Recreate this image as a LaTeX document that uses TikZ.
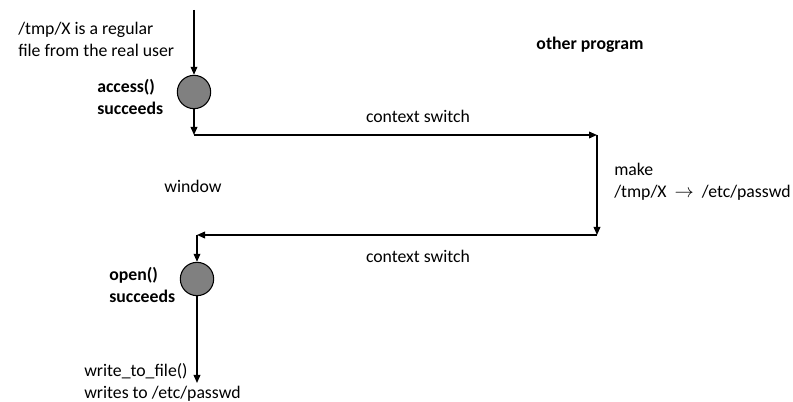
\documentclass[tikz,border=0pt]{standalone}
\usepackage{fontspec}
\setmainfont{Carlito}
\usetikzlibrary{arrows.meta}
\tikzset{
    state/.style={circle,draw,fill=black!50,minimum size=25,inner sep=0pt,line width=0.8pt},
    txt/.style={draw=none,inner sep=0pt,align=left,anchor=west,font=\fontsize{13.3}{16.5}\selectfont},
    btxt/.style={txt,font=\fontsize{13.3}{16.5}\selectfont\bfseries},
    ctxt/.style={txt,anchor=center,align=center},
    flow/.style={arrows={-Triangle[length=6pt,width=5pt]},line width=1.1pt},
    }
\begin{document}
\begin{tikzpicture}[x=0.75pt,y=-0.75pt]
        \useasboundingbox (0,0) rectangle (793,402);
		\coordinate (start) at (194,10);
		\node[state] (acc) at (194,92) {};
		\coordinate (c1) at (194,135);
		\coordinate (c2) at (597,135);
		\coordinate (c3) at (597,235);
		\coordinate (c4) at (197,235);
		\node[state] (opn) at (197,279) {};
		\coordinate (stop) at (197,383);

		\node[txt] (regular) at (18,39) {/tmp/X is a regular\\file from the real user};
		\node[btxt] (accok) at (97,97) {access()\\succeeds};
		\node[btxt,anchor=center] (other) at (590,45) {other program};
		\node[ctxt] (sw1) at (418,116) {context switch};
		\node[ctxt] (win) at (193,186) {window};
		\node[txt] (make) at (614,182) {make\\/tmp/X \ $\rightarrow$ \ /etc/passwd};
		\node[ctxt] (sw2) at (418,256) {context switch};
		\node[btxt] (opnok) at (109,285) {open()\\succeeds};
		\node[txt] (write) at (84,382) {write\_to\_file()\\writes to /etc/passwd};

		\draw[flow] (start) to (acc);
		\draw[flow] (acc) to (c1);
		\draw[flow] (c1) to (c2);
		\draw[flow] (c2) to (c3);
		\draw[flow] (c3) to (c4);
		\draw[flow] (c4) to (opn);
		\draw[flow] (opn) to (stop);
    \end{tikzpicture}
\end{document}
